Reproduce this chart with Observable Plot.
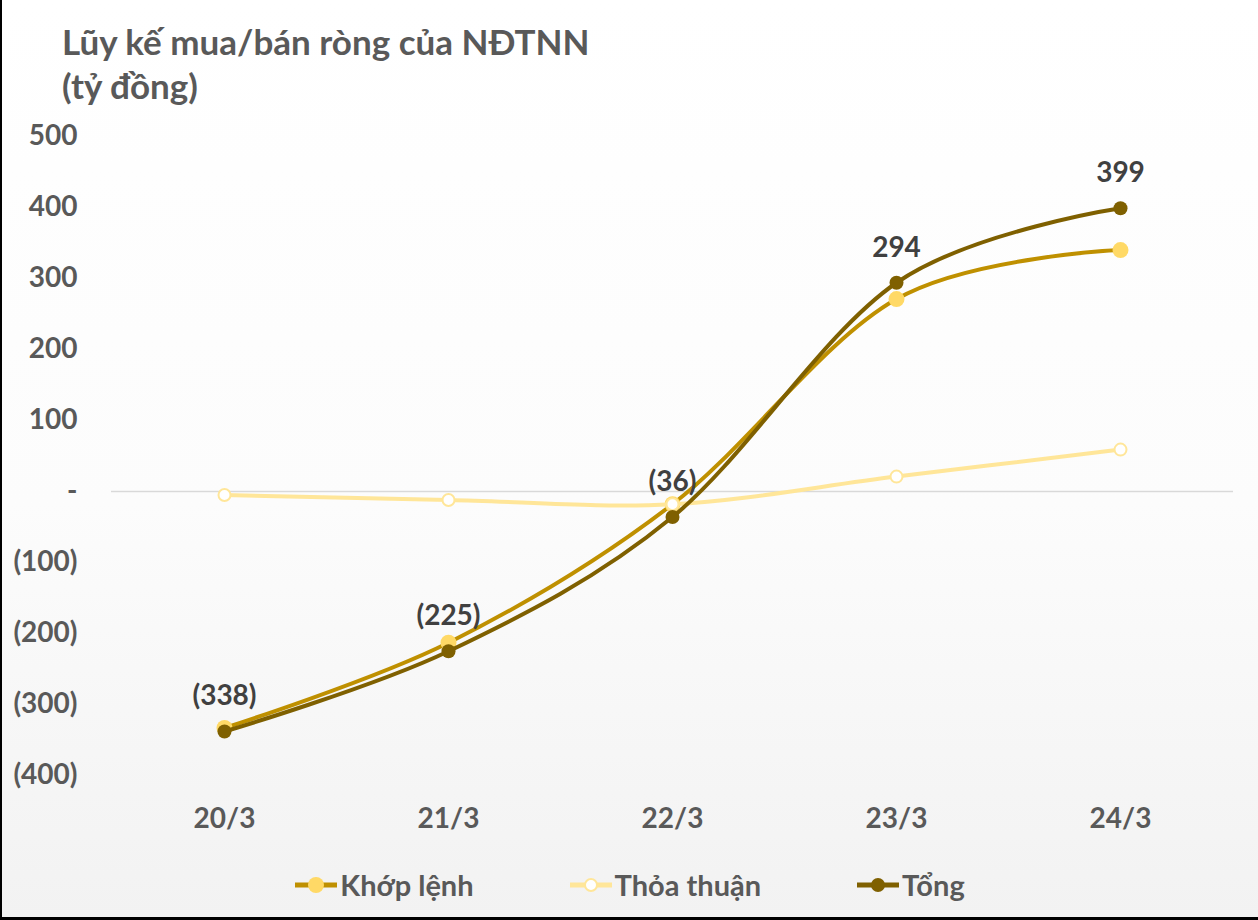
<!DOCTYPE html>
<html>
<head>
<meta charset="utf-8">
<script src="https://cdn.jsdelivr.net/npm/d3@7"></script>
<script src="https://cdn.jsdelivr.net/npm/@observablehq/plot@0.6"></script>
<style>
  html, body { margin: 0; padding: 0; }
  #wrap {
    position: relative; width: 1258px; height: 920px; box-sizing: border-box;
    border-left: 2px solid #000; border-bottom: 3px solid #000;
    background: linear-gradient(#ffffff 0%, #fcfcfc 55%, #f2f2f2 100%);
    font-family: Lato, "Open Sans", sans-serif; overflow: hidden;
  }
  #title {
    position: absolute; left: 60px; top: 19px; font-size: 35px; font-weight: 700;
    line-height: 44px; color: #595959;
  }
  #chart { position: absolute; left: -2px; top: 120px; }
  #legend {
    position: absolute; left: 0; top: 867px; width: 1256px; display: flex;
    justify-content: center; gap: 96px; font-size: 29px; font-weight: 700; color: #595959;
  }
  .item { display: flex; align-items: center; gap: 3px; }
</style>
</head>
<body>
<div id="wrap">
  <div id="title">Lũy kế mua/bán ròng của NĐTNN<br>(tỷ đồng)</div>
  <div id="chart"></div>
  <div id="legend"></div>
</div>
<script>
const dates = ["20/3", "21/3", "22/3", "23/3", "24/3"];
const seriesNames = ["Khớp lệnh", "Thỏa thuận", "Tổng"];
const khopLenh = [-333, -213, -18, 271, 340];
const thoaThuan = [-5, -12, -18, 21, 59];
const tong = [-338, -225, -36, 294, 399];
const yTicks = [-400, -300, -200, -100, 0, 100, 200, 300, 400, 500];

const styles = {
  "Khớp lệnh": {line: "#bf9000", dotFill: "#ffd966", dotStroke: "none", r: 8},
  "Thỏa thuận": {line: "#ffe699", dotFill: "#ffffff", dotStroke: "#ffe699", r: 6},
  "Tổng": {line: "#7f6000", dotFill: "#7f6000", dotStroke: "none", r: 7}
};
const valuesBySeries = {"Khớp lệnh": khopLenh, "Thỏa thuận": thoaThuan, "Tổng": tong};
const data = seriesNames.map(s => dates.map((d, i) => ({series: s, date: d, value: valuesBySeries[s][i]})));
const tongData = data[2];

const fmt = v => v === 0 ? "-" : v < 0 ? `(${Math.abs(v)})` : `${v}`;

const marks = [
  Plot.ruleY([0], {stroke: "#d9d9d9", strokeWidth: 1.5}),
  Plot.axisY({ticks: yTicks, tickFormat: fmt, tickSize: 0, tickPadding: 34, fontSize: 28, fill: "#595959", label: null}),
  Plot.axisX({tickSize: 0, tickPadding: 33, fontSize: 28, fill: "#595959", label: null})
];
for (const s of seriesNames) {
  const st = styles[s];
  const d = data[seriesNames.indexOf(s)];
  marks.push(Plot.line(d, {x: "date", y: "value", stroke: st.line, strokeWidth: 4, curve: "cardinal"}));
  marks.push(Plot.dot(d, {x: "date", y: "value", r: st.r, fill: st.dotFill, stroke: st.dotStroke, strokeWidth: 2}));
}
marks.push(Plot.text(tongData, {x: "date", y: "value", text: d => fmt(d.value), dy: -35, fontSize: 28, fontWeight: "bold", fill: "#404040"}));

const plot = Plot.plot({
  width: 1258, height: 720,
  marginLeft: 111, marginRight: 25, marginTop: 16, marginBottom: 65,
  x: {type: "point", domain: dates, padding: 0.5, axis: null},
  y: {domain: [-400, 500], axis: null},
  style: {fontFamily: "Lato, 'Open Sans', sans-serif", fontWeight: "bold", background: "transparent", overflow: "visible"},
  marks
});
document.getElementById("chart").appendChild(plot);

const legend = document.getElementById("legend");
for (const s of seriesNames) {
  const st = styles[s];
  const item = document.createElement("div");
  item.className = "item";
  item.innerHTML = `<svg width="42" height="22"><line x1="0" x2="42" y1="11" y2="11" stroke="${st.line}" stroke-width="5"/><circle cx="21" cy="11" r="${st.r}" fill="${st.dotFill}" stroke="${st.dotStroke}" stroke-width="2"/></svg><span>${s}</span>`;
  legend.appendChild(item);
}
</script>
</body>
</html>
